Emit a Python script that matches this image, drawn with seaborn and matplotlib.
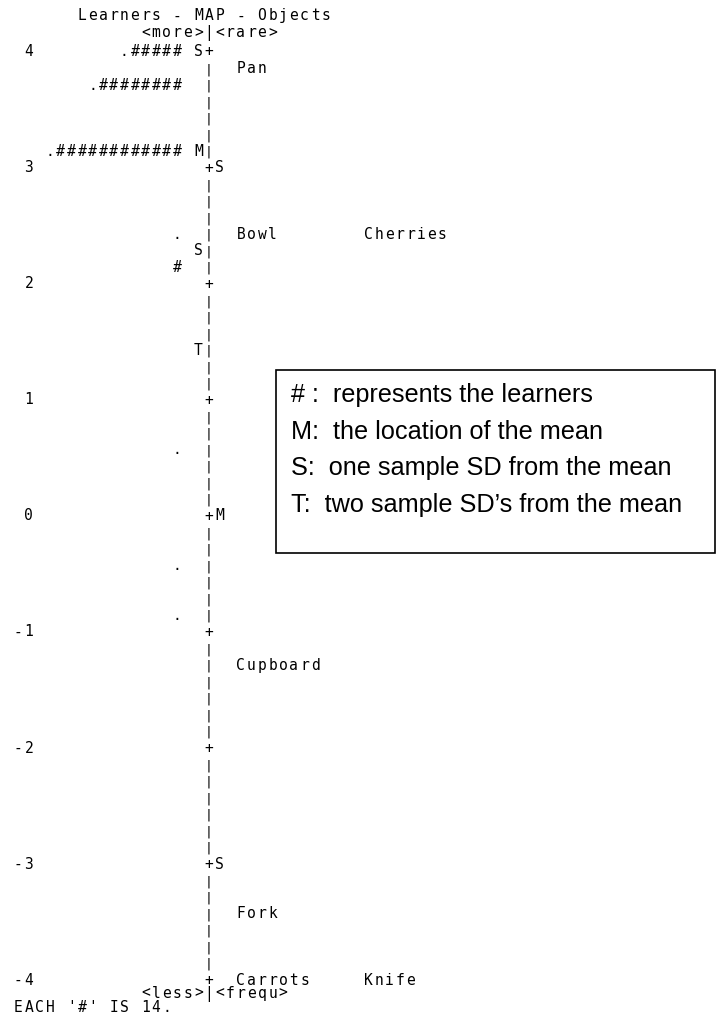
import numpy as np
import matplotlib
matplotlib.use("Agg")
import matplotlib.pyplot as plt
from matplotlib.patches import Rectangle
import seaborn as sns

# Wright map (learners vs objects), measures in logits
learner_measures = [4.0, 3.71, 3.14, 2.43, 2.14, 0.57, -0.43, -0.86]
learner_marks = [".#####", ".########", ".############", ".", "#", ".", ".", "."]

item_measures = [3.86, 2.43, -1.29, -3.43, -4.0]
item_labels = [["Pan"], ["Bowl", "Cherries"], ["Cupboard"], ["Fork"], ["Carrots", "Knife"]]

learner_stats = ["S", "M", "S", "T"]
learner_stat_measures = [4.0, 3.14, 2.29, 1.43]
item_stats = ["S", "M", "S"]
item_stat_measures = [3.0, 0.0, -3.0]

ticks = [4, 3, 2, 1, 0, -1, -2, -3, -4]
rows_per_logit = 7

title = "Learners - MAP - Objects"
top_note = "<more>|<rare>"
bottom_note = "<less>|<frequ>"
footer = "EACH '#' IS 14."

legend_lines = ["# :  represents the learners",
                "M:  the location of the mean",
                "S:  one sample SD from the mean",
                "T:  two sample SD\u2019s from the mean"]

sns.set_theme(style="white")
plt.rcParams['font.family'] = ['DejaVu Sans Mono']

W, H = 720, 1023
COL_PX = 10.6     # width of one text column
AXIS_PX = 209     # x of the '|' column
TOP_PX = 51       # y of the "4" row
LOGIT_PX = 116    # pixels per logit
FS = 10.5

fig = plt.figure(figsize=(W / 100, H / 100), dpi=100)
ax = fig.add_axes([0, 0, 1, 1])
ax.set_xlim(-AXIS_PX / COL_PX, (W - AXIS_PX) / COL_PX)
ax.set_ylim(4 - (H - TOP_PX) / LOGIT_PX, 4 + TOP_PX / LOGIT_PX)
ax.axis('off')

base = 5.5 / LOGIT_PX


def snap(m):
    return round(m * rows_per_logit) / rows_per_logit


def put(s, col, y, size=FS):
    # one character per column, like the original fixed-width output
    for i, ch in enumerate(s):
        if ch != " ":
            ax.text(col + i, y - base, ch, ha='center', va='baseline',
                    fontsize=size, family='DejaVu Sans Mono', color='black')


# the vertical scale
grid = np.arange(-4 * rows_per_logit, 4 * rows_per_logit + 1) / rows_per_logit
for g in grid:
    if abs(g - round(g)) < 1e-9:
        put("+", 0, g)
    else:
        put("|", 0, g, size=9.5)

for t in ticks:
    put(str(t).rjust(2), -18, t)

for m, s in zip(learner_measures, learner_marks):
    put(s, -2 - len(s), snap(m))

for m, s in zip(learner_stat_measures, learner_stats):
    put(s, -1, snap(m))

for m, s in zip(item_stat_measures, item_stats):
    put(s, 1, snap(m))

for m, labs in zip(item_measures, item_labels):
    for j, lab in enumerate(labs):
        put(lab, 3 + 12 * j, snap(m))

put(title, -12, 4 + 36 / LOGIT_PX)
put(top_note, -6, 4 + 19 / LOGIT_PX)
put(bottom_note, -6, -4 - 13 / LOGIT_PX)
put(footer, -18, -4 - 27 / LOGIT_PX)

# key box
x0, x1, y0, y1 = 276, 715, 370, 553
fig.add_artist(Rectangle((x0 / W, 1 - y1 / H), (x1 - x0) / W, (y1 - y0) / H,
                         transform=fig.transFigure, fill=False,
                         edgecolor='black', linewidth=1.2))
for i, line in enumerate(legend_lines):
    fig.text(291 / W, 1 - (395 + 36.7 * i) / H, line, ha='left', va='center',
             fontsize=18.2, family='Liberation Sans', color='black')

fig.savefig("out.png", dpi=100)
